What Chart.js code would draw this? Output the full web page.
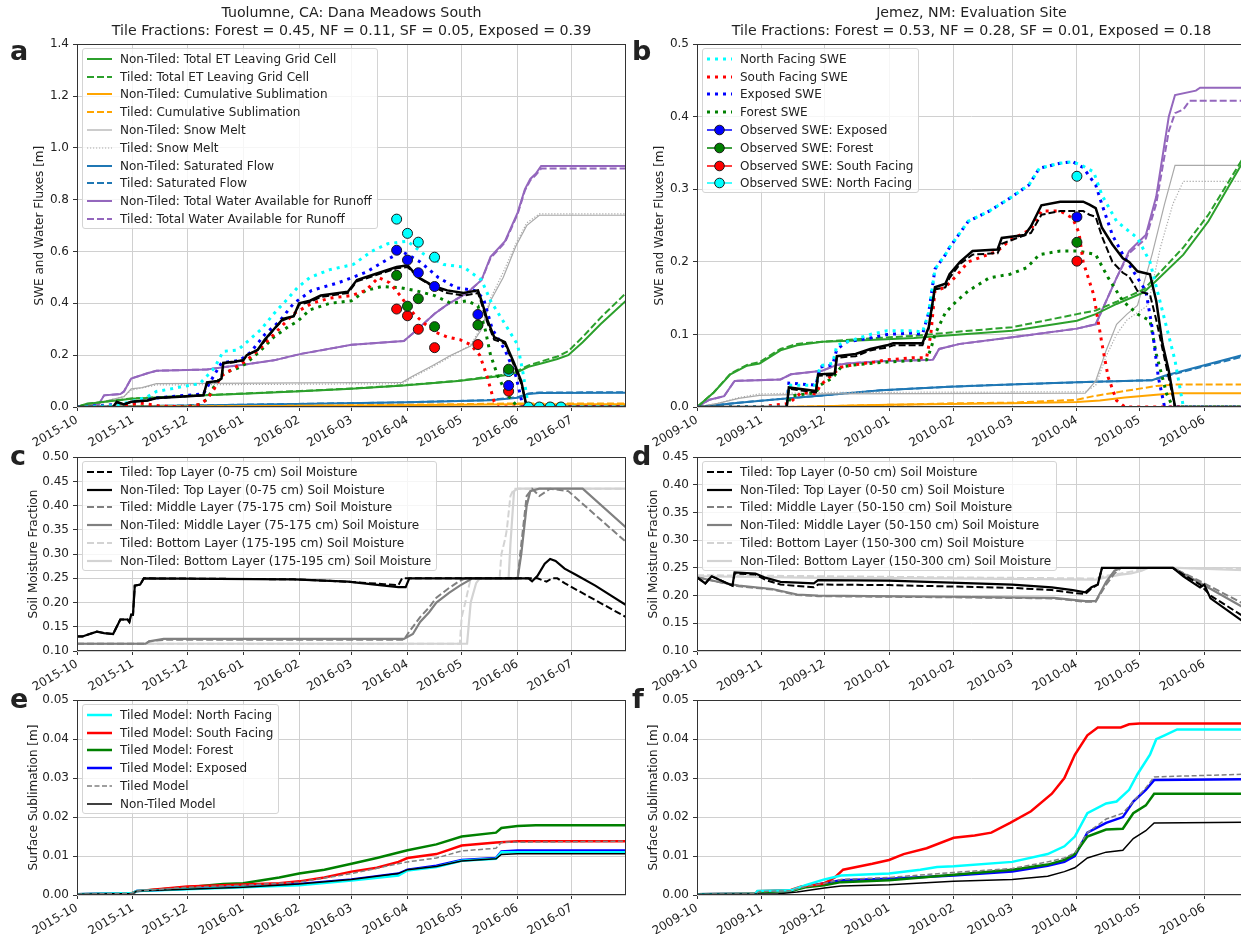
<!DOCTYPE html>
<html>
<head>
<meta charset="utf-8">
<script src="https://cdn.jsdelivr.net/npm/chart.js@4.4.0/dist/chart.umd.min.js"></script>
<style>
  html, body { margin: 0; padding: 0; background: #fff; overflow: hidden; }
  body { width: 1241px; height: 934px; position: relative; font-family: 'DejaVu Sans', sans-serif; color: #222; }
  canvas.panel { position: absolute; }
  .title { position: absolute; text-align: center; font-size: 14.2px; line-height: 17.5px; white-space: nowrap; z-index: 2; }
  .letter { position: absolute; font-weight: bold; font-size: 27px; line-height: 27px; z-index: 2; }
  .legend { position: absolute; background: rgba(255,255,255,0.8); border: 1px solid #d4d4d4; border-radius: 3px;
            padding: 1px 5px 0 4px; font-size: 12px; z-index: 2; }
  .legend .row { height: 17.8px; display: flex; align-items: center; white-space: nowrap; }
  .legend svg { margin-right: 8px; flex: none; }
</style>
</head>
<body>
<div class="title" style="left:77px; top:4px; width:549px;">Tuolumne, CA: Dana Meadows South<br>Tile Fractions: Forest = 0.45, NF = 0.11, SF = 0.05, Exposed = 0.39</div>
<div class="title" style="left:697px; top:4px; width:549px;">Jemez, NM: Evaluation Site<br>Tile Fractions: Forest = 0.53, NF = 0.28, SF = 0.01, Exposed = 0.18</div>
<div class="letter" style="left:10px; top:37px;">a</div>
<div class="letter" style="left:632px; top:37px;">b</div>
<div class="letter" style="left:10px; top:442px;">c</div>
<div class="letter" style="left:632px; top:442px;">d</div>
<div class="letter" style="left:10px; top:685px;">e</div>
<div class="letter" style="left:632px; top:685px;">f</div>

<script>
// x values are days since 1 October of the water year

// month ticks
const tuolMonthDays = [0, 31, 61, 92, 123, 152, 183, 213, 244, 274];
const tuolMonthLabels = ['2015-10', '2015-11', '2015-12', '2016-01', '2016-02', '2016-03', '2016-04', '2016-05', '2016-06', '2016-07'];
const jemezMonthDays = [0, 31, 61, 92, 123, 151, 182, 212, 243];
const jemezMonthLabels = ['2009-10', '2009-11', '2009-12', '2010-01', '2010-02', '2010-03', '2010-04', '2010-05', '2010-06'];

// y ticks
const tuolFluxTicks = [0, 0.2, 0.4, 0.6, 0.8, 1.0, 1.2, 1.4];
const jemezFluxTicks = [0, 0.1, 0.2, 0.3, 0.4, 0.5];
const tuolSoilTicks = [0.10, 0.15, 0.20, 0.25, 0.30, 0.35, 0.40, 0.45, 0.50];
const jemezSoilTicks = [0.10, 0.15, 0.20, 0.25, 0.30, 0.35, 0.40, 0.45];
const sublTicks = [0, 0.01, 0.02, 0.03, 0.04, 0.05];

// ---- Tuolumne: water fluxes ----
const tuolEtNonTiled = [[0,0],[5,0.012],[30,0.032],[61,0.042],[92,0.051],[124,0.061],[152,0.07],[181,0.083],[211,0.1],[229,0.115],[240,0.125],[244,0.135],[250,0.155],[258,0.17],[266,0.185],[272,0.2],[280,0.25],[290,0.32],[304,0.41]];
const tuolEtTiled = [[0,0],[5,0.012],[30,0.033],[61,0.043],[92,0.052],[124,0.062],[152,0.071],[181,0.084],[211,0.101],[229,0.118],[240,0.128],[244,0.14],[250,0.16],[258,0.178],[266,0.195],[272,0.215],[280,0.27],[290,0.345],[304,0.44]];
const tuolSublNonTiled = [[0,0],[31,0.001],[92,0.003],[152,0.006],[213,0.009],[244,0.0105],[304,0.0105]];
const tuolSublTiled = [[0,0],[31,0.001],[92,0.003],[152,0.0065],[213,0.011],[244,0.0138],[304,0.0138]];
const tuolMeltNonTiled = [[0,0],[14,0.02],[26,0.04],[30,0.07],[36,0.075],[44,0.09],[180,0.095],[186,0.12],[197,0.16],[207,0.2],[218,0.235],[224,0.3],[229,0.41],[236,0.5],[243,0.62],[249,0.7],[256,0.74],[304,0.74]];
const tuolMeltTiled = [[0,0],[14,0.02],[26,0.04],[30,0.065],[44,0.085],[180,0.09],[186,0.115],[197,0.155],[207,0.195],[218,0.24],[224,0.31],[229,0.42],[236,0.52],[243,0.63],[249,0.71],[256,0.745],[304,0.745]];
const tuolSatNonTiled = [[0,0],[31,0.003],[92,0.009],[122,0.012],[183,0.018],[229,0.026],[244,0.036],[250,0.05],[256,0.054],[304,0.055]];
const tuolSatTiled = [[0,0],[31,0.003],[92,0.009],[122,0.012],[183,0.018],[229,0.027],[244,0.038],[250,0.052],[256,0.056],[304,0.057]];
const tuolRunoffNonTiled = [[0,0],[5,0.006],[12,0.01],[15,0.045],[24,0.05],[26,0.06],[30,0.11],[39,0.13],[44,0.14],[72,0.145],[83,0.155],[94,0.165],[109,0.18],[124,0.205],[152,0.24],[181,0.255],[187,0.29],[198,0.36],[205,0.395],[216,0.44],[224,0.49],[229,0.58],[237,0.64],[244,0.75],[248,0.84],[251,0.88],[254,0.9],[257,0.93],[304,0.93]];
const tuolRunoffTiled = [[0,0],[5,0.006],[12,0.01],[15,0.045],[24,0.05],[26,0.06],[30,0.11],[39,0.13],[44,0.14],[72,0.145],[83,0.155],[94,0.165],[109,0.18],[124,0.205],[152,0.24],[181,0.255],[187,0.29],[198,0.36],[205,0.395],[216,0.44],[224,0.49],[229,0.575],[237,0.635],[244,0.745],[248,0.835],[251,0.875],[254,0.895],[257,0.92],[304,0.92]];

// ---- Tuolumne: SWE ----
const tuolSweNorth = [[0,0],[20,0.005],[30,0.02],[39,0.04],[44,0.06],[52,0.07],[59,0.08],[68,0.09],[72,0.12],[76,0.15],[81,0.215],[89,0.22],[94,0.25],[102,0.3],[109,0.36],[117,0.42],[122,0.46],[129,0.5],[140,0.53],[153,0.55],[163,0.6],[172,0.63],[183,0.64],[192,0.59],[203,0.55],[214,0.54],[224,0.49],[229,0.41],[237,0.32],[244,0.24],[247,0.13],[250,0],[304,0]];
const tuolSweSouth = [[0,0],[25,0.005],[35,0.015],[45,0.005],[60,0],[68,0.01],[72,0.03],[76,0.07],[80,0.12],[87,0.15],[94,0.18],[102,0.23],[109,0.28],[120,0.36],[130,0.4],[140,0.42],[152,0.43],[160,0.45],[167,0.5],[173,0.48],[179,0.43],[185,0.37],[191,0.33],[198,0.29],[205,0.27],[212,0.26],[218,0.24],[223,0.2],[227,0.12],[231,0.02],[233,0],[304,0]];
const tuolSweExposed = [[0,0],[22,0.01],[30,0.015],[44,0.035],[60,0.045],[70,0.05],[74,0.1],[80,0.17],[90,0.18],[96,0.21],[104,0.28],[112,0.33],[120,0.4],[130,0.45],[145,0.48],[160,0.52],[172,0.57],[180,0.6],[190,0.56],[200,0.5],[210,0.46],[220,0.45],[225,0.42],[230,0.3],[237,0.22],[243,0.12],[247,0],[304,0]];
const tuolSweForest = [[0,0],[60,0],[68,0.01],[72,0.03],[76,0.08],[81,0.13],[89,0.15],[94,0.17],[102,0.22],[109,0.27],[117,0.31],[122,0.33],[129,0.375],[140,0.4],[152,0.41],[160,0.45],[169,0.465],[179,0.46],[187,0.45],[198,0.43],[207,0.4],[216,0.41],[222,0.39],[226,0.3],[229,0.2],[233,0.12],[238,0.05],[244,0],[304,0]];
const tuolSweNonTiled = [[0,0],[20,0],[22,0.02],[26,0.01],[30,0.02],[39,0.025],[44,0.035],[57,0.04],[70,0.045],[72,0.095],[78,0.1],[80,0.11],[81,0.17],[87,0.175],[92,0.18],[94,0.2],[100,0.22],[104,0.26],[109,0.3],[114,0.34],[120,0.35],[123,0.4],[129,0.41],[135,0.43],[150,0.445],[155,0.49],[166,0.515],[177,0.54],[183,0.547],[189,0.5],[198,0.465],[205,0.45],[214,0.44],[222,0.45],[224,0.41],[227,0.34],[231,0.27],[237,0.25],[242,0.17],[246,0.1],[249,0],[304,0]];
const tuolSweTiled = [[0,0],[20,0],[22,0.018],[26,0.01],[30,0.02],[39,0.025],[44,0.035],[57,0.04],[70,0.045],[72,0.093],[78,0.1],[80,0.11],[81,0.168],[87,0.173],[92,0.18],[94,0.2],[100,0.22],[104,0.255],[109,0.3],[114,0.335],[120,0.35],[123,0.395],[129,0.405],[135,0.425],[150,0.44],[155,0.485],[166,0.51],[177,0.535],[183,0.54],[189,0.5],[198,0.46],[205,0.44],[214,0.43],[222,0.44],[224,0.4],[227,0.33],[231,0.26],[237,0.245],[242,0.16],[246,0.09],[249,0],[304,0]];
const tuolObsExposed = [[177,0.605],[183,0.567],[189,0.518],[198,0.465],[222,0.357],[239,0.083]];
const tuolObsForest = [[177,0.508],[183,0.389],[189,0.418],[198,0.31],[222,0.316],[239,0.146]];
const tuolObsSouth = [[177,0.378],[183,0.352],[189,0.3],[198,0.229],[222,0.241],[239,0.061]];
const tuolObsNorth = [[177,0.725],[183,0.67],[189,0.636],[198,0.578],[239,0.137],[250,0],[256,0],[262,0],[268,0]];

// ---- Jemez: water fluxes ----
const jemezEtNonTiled = [[0,0],[8,0.02],[16,0.045],[24,0.057],[30,0.06],[40,0.078],[48,0.085],[60,0.09],[80,0.092],[104,0.095],[126,0.1],[151,0.105],[182,0.119],[191,0.128],[201,0.142],[214,0.158],[220,0.174],[233,0.21],[245,0.256],[262,0.34]];
const jemezEtTiled = [[0,0],[8,0.02],[16,0.046],[24,0.058],[30,0.062],[40,0.08],[48,0.087],[60,0.09],[80,0.094],[104,0.098],[126,0.104],[151,0.11],[182,0.128],[191,0.133],[201,0.145],[214,0.162],[220,0.18],[233,0.22],[245,0.265],[262,0.345]];
const jemezSublNonTiled = [[0,0],[40,0],[60,0.001],[92,0.003],[121,0.004],[151,0.005],[182,0.007],[193,0.009],[205,0.013],[220,0.017],[229,0.019],[262,0.019]];
const jemezSublTiled = [[0,0],[40,0],[60,0.001],[92,0.003],[121,0.005],[151,0.006],[182,0.01],[190,0.015],[205,0.022],[220,0.029],[229,0.031],[262,0.031]];
const jemezMeltNonTiled = [[0,0],[10,0.005],[20,0.012],[30,0.016],[60,0.018],[186,0.019],[191,0.036],[196,0.078],[201,0.114],[206,0.128],[211,0.14],[218,0.21],[224,0.28],[229,0.333],[262,0.333]];
const jemezMeltTiled = [[0,0],[10,0.005],[20,0.013],[30,0.018],[60,0.02],[186,0.021],[191,0.03],[196,0.07],[201,0.1],[206,0.12],[211,0.13],[216,0.14],[222,0.22],[228,0.28],[233,0.311],[262,0.311]];
const jemezSatNonTiled = [[0,0],[20,0.006],[40,0.011],[60,0.016],[88,0.023],[121,0.028],[150,0.031],[182,0.034],[218,0.037],[224,0.043],[262,0.072]];
const jemezSatTiled = [[0,0],[20,0.006],[40,0.011],[60,0.016],[88,0.023],[121,0.028],[150,0.031],[182,0.034],[218,0.037],[224,0.042],[262,0.07]];
const jemezRunoffNonTiled = [[0,0],[6,0.01],[13,0.015],[18,0.036],[40,0.038],[45,0.045],[60,0.05],[67,0.058],[72,0.06],[88,0.063],[113,0.065],[116,0.08],[126,0.087],[151,0.096],[182,0.108],[191,0.114],[196,0.146],[201,0.178],[207,0.215],[211,0.226],[215,0.237],[220,0.29],[226,0.4],[229,0.43],[239,0.436],[241,0.44],[262,0.44]];
const jemezRunoffTiled = [[0,0],[6,0.01],[13,0.015],[18,0.036],[40,0.038],[45,0.045],[60,0.05],[67,0.058],[72,0.06],[88,0.063],[113,0.065],[116,0.08],[126,0.087],[151,0.096],[182,0.108],[191,0.114],[196,0.146],[201,0.178],[207,0.212],[211,0.222],[215,0.232],[220,0.28],[226,0.38],[229,0.405],[233,0.41],[236,0.422],[262,0.422]];

// ---- Jemez: SWE ----
const jemezSweNorth = [[0,0],[43,0],[44,0.03],[57,0.03],[59,0.057],[65,0.06],[67,0.085],[72,0.09],[83,0.1],[91,0.105],[104,0.105],[108,0.103],[111,0.13],[114,0.19],[119,0.21],[121,0.22],[130,0.256],[140,0.27],[150,0.288],[159,0.306],[164,0.329],[174,0.336],[180,0.338],[185,0.332],[190,0.324],[194,0.292],[201,0.256],[207,0.242],[211,0.233],[217,0.2],[223,0.132],[229,0.064],[233,0],[262,0]];
const jemezSweSouth = [[0,0],[30,0],[44,0.005],[50,0.02],[57,0.018],[59,0.03],[65,0.045],[69,0.055],[75,0.058],[85,0.062],[91,0.065],[104,0.068],[110,0.068],[112,0.1],[114,0.16],[119,0.165],[124,0.18],[130,0.2],[144,0.215],[150,0.23],[160,0.245],[165,0.27],[174,0.27],[180,0.26],[183,0.24],[185,0.2],[190,0.155],[194,0.087],[197,0.041],[201,0.009],[205,0],[262,0]];
const jemezSweExposed = [[0,0],[43,0],[44,0.033],[57,0.03],[59,0.055],[65,0.058],[67,0.08],[72,0.09],[83,0.095],[91,0.1],[104,0.102],[108,0.1],[111,0.13],[114,0.19],[119,0.21],[121,0.22],[130,0.256],[140,0.27],[150,0.288],[159,0.306],[164,0.329],[174,0.336],[180,0.338],[185,0.33],[191,0.306],[194,0.279],[199,0.237],[204,0.21],[211,0.178],[215,0.16],[218,0.11],[221,0.041],[224,0],[262,0]];
const jemezSweForest = [[0,0],[43,0],[45,0.015],[57,0.02],[59,0.03],[65,0.04],[69,0.055],[75,0.058],[91,0.062],[110,0.065],[112,0.08],[114,0.1],[119,0.13],[124,0.145],[130,0.16],[140,0.178],[150,0.183],[158,0.192],[164,0.21],[174,0.215],[182,0.215],[188,0.212],[191,0.21],[197,0.178],[204,0.146],[211,0.128],[217,0.119],[220,0.073],[225,0.018],[228,0],[262,0]];
const jemezSweNonTiled = [[0,0],[43,0],[44,0.027],[57,0.022],[58,0.045],[66,0.046],[67,0.07],[76,0.073],[83,0.08],[91,0.085],[94,0.088],[108,0.088],[111,0.11],[114,0.165],[119,0.17],[121,0.183],[126,0.2],[132,0.215],[144,0.217],[146,0.233],[157,0.237],[160,0.249],[165,0.278],[174,0.283],[185,0.283],[188,0.279],[191,0.274],[194,0.247],[199,0.224],[204,0.205],[207,0.2],[211,0.187],[217,0.183],[220,0.146],[223,0.087],[226,0.05],[229,0],[262,0]];
const jemezSweTiled = [[0,0],[43,0],[44,0.025],[57,0.02],[58,0.043],[66,0.044],[67,0.068],[76,0.07],[83,0.078],[91,0.082],[94,0.085],[108,0.085],[111,0.108],[114,0.162],[119,0.165],[121,0.178],[126,0.197],[132,0.21],[144,0.212],[146,0.225],[160,0.24],[165,0.265],[174,0.27],[185,0.27],[188,0.265],[191,0.262],[194,0.235],[199,0.2],[204,0.185],[207,0.18],[211,0.16],[217,0.155],[220,0.12],[223,0.08],[226,0.04],[229,0],[262,0]];
const jemezObsExposed = [[182,0.262]];
const jemezObsForest = [[182,0.227]];
const jemezObsSouth = [[182,0.201]];
const jemezObsNorth = [[182,0.318]];

// ---- soil moisture ----
const tuolTopTiled = [[0,0.13],[3,0.13],[7,0.135],[11,0.14],[15,0.137],[20,0.135],[22,0.15],[24,0.165],[28,0.165],[29,0.16],[30,0.175],[31,0.175],[32,0.235],[35,0.237],[37,0.25],[120,0.248],[150,0.243],[170,0.238],[178,0.236],[180,0.25],[250,0.25],[255,0.25],[260,0.243],[263,0.25],[266,0.25],[270,0.24],[287,0.205],[304,0.17]];
const tuolTopNonTiled = [[0,0.13],[3,0.13],[7,0.135],[11,0.14],[15,0.137],[20,0.135],[22,0.15],[24,0.165],[28,0.165],[29,0.16],[30,0.175],[31,0.175],[32,0.235],[35,0.237],[37,0.25],[120,0.248],[150,0.243],[165,0.237],[178,0.232],[182,0.232],[184,0.25],[250,0.25],[252,0.244],[255,0.255],[259,0.28],[262,0.29],[265,0.286],[270,0.27],[276,0.258],[287,0.235],[304,0.195]];
const tuolMidTiled = [[0,0.115],[38,0.115],[40,0.12],[48,0.123],[181,0.123],[184,0.14],[190,0.17],[195,0.19],[199,0.21],[206,0.23],[212,0.245],[215,0.25],[244,0.25],[246,0.32],[249,0.42],[252,0.435],[256,0.42],[262,0.435],[272,0.43],[304,0.325]];
const tuolMidNonTiled = [[0,0.115],[38,0.115],[40,0.12],[48,0.125],[181,0.125],[186,0.135],[190,0.16],[195,0.18],[199,0.2],[206,0.22],[212,0.235],[219,0.25],[244,0.25],[246,0.3],[249,0.4],[251,0.43],[256,0.435],[280,0.435],[304,0.355]];
const tuolBotTiled = [[0,0.115],[212,0.115],[213,0.17],[215,0.2],[218,0.25],[234,0.25],[235,0.3],[237,0.33],[238,0.35],[240,0.42],[242,0.435],[304,0.435]];
const tuolBotNonTiled = [[0,0.115],[216,0.115],[218,0.2],[221,0.24],[223,0.25],[239,0.25],[240,0.32],[242,0.43],[244,0.435],[304,0.435]];
const jemezTopTiled = [[0,0.233],[4,0.222],[7,0.235],[17,0.218],[18,0.24],[28,0.238],[33,0.228],[40,0.22],[56,0.215],[58,0.22],[92,0.219],[151,0.214],[170,0.21],[180,0.205],[186,0.203],[189,0.213],[192,0.22],[194,0.25],[228,0.25],[233,0.238],[241,0.22],[246,0.2],[262,0.162]];
const jemezTopNonTiled = [[0,0.233],[4,0.222],[7,0.235],[17,0.218],[18,0.242],[28,0.24],[33,0.232],[40,0.225],[56,0.222],[58,0.228],[92,0.227],[151,0.22],[170,0.215],[180,0.21],[186,0.206],[189,0.215],[192,0.22],[194,0.25],[228,0.25],[233,0.235],[238,0.222],[241,0.215],[243,0.22],[246,0.195],[262,0.152]];
const jemezMidTiled = [[0,0.233],[10,0.225],[20,0.217],[36,0.211],[48,0.201],[58,0.199],[120,0.197],[171,0.195],[186,0.189],[191,0.189],[196,0.22],[200,0.24],[203,0.25],[228,0.25],[240,0.228],[262,0.185]];
const jemezMidNonTiled = [[0,0.233],[10,0.225],[20,0.218],[36,0.212],[48,0.202],[58,0.2],[120,0.198],[171,0.196],[186,0.19],[191,0.19],[196,0.225],[200,0.245],[203,0.25],[228,0.25],[240,0.225],[262,0.178]];
const jemezBotTiled = [[0,0.237],[60,0.235],[120,0.233],[191,0.231],[196,0.236],[203,0.24],[210,0.245],[214,0.25],[230,0.25],[262,0.248]];
const jemezBotNonTiled = [[0,0.235],[60,0.232],[120,0.231],[191,0.229],[196,0.233],[203,0.238],[208,0.24],[213,0.245],[216,0.25],[230,0.25],[262,0.246]];

// ---- surface sublimation by tile ----
const tuolSublNorth = [[0,0.0002],[31,0.0005],[33,0.001],[61,0.0015],[92,0.002],[123,0.0025],[152,0.0037],[178,0.005],[183,0.0063],[199,0.0072],[213,0.0088],[232,0.0093],[235,0.011],[304,0.011]];
const tuolSublSouth = [[0,0.0002],[28,0.0003],[31,0.0005],[33,0.001],[61,0.0022],[81,0.0025],[92,0.0027],[112,0.003],[123,0.0035],[137,0.0045],[152,0.006],[166,0.007],[178,0.0085],[183,0.0095],[199,0.0105],[213,0.0127],[232,0.0135],[244,0.0138],[304,0.0138]];
const tuolSublForest = [[0,0.0002],[28,0.0003],[31,0.0005],[33,0.001],[61,0.002],[81,0.0028],[92,0.003],[112,0.0045],[123,0.0055],[137,0.0065],[152,0.008],[166,0.0095],[183,0.0115],[199,0.013],[213,0.015],[232,0.016],[235,0.0172],[244,0.0177],[254,0.0179],[304,0.0179]];
const tuolSublExposed = [[0,0.0002],[31,0.0005],[33,0.001],[61,0.0016],[92,0.0022],[123,0.0028],[152,0.004],[178,0.0055],[183,0.0065],[199,0.0075],[213,0.009],[232,0.0095],[235,0.0112],[244,0.0114],[304,0.0114]];
const tuolSublTiledTotal = [[0,0.0002],[31,0.0005],[33,0.001],[61,0.002],[92,0.0025],[123,0.0033],[152,0.0055],[183,0.0085],[199,0.0095],[213,0.0113],[232,0.012],[235,0.0135],[304,0.0138]];
const tuolSublNonTiledTotal = [[0,0.0002],[31,0.0004],[33,0.001],[61,0.0015],[92,0.002],[123,0.0028],[152,0.004],[178,0.0055],[183,0.0065],[199,0.0073],[213,0.0087],[232,0.0093],[235,0.0104],[244,0.0106],[304,0.0106]];
const jemezSublNorth = [[0,0.0002],[28,0.0003],[29,0.001],[45,0.0012],[52,0.0025],[61,0.004],[69,0.005],[92,0.0055],[107,0.0065],[115,0.0072],[123,0.0074],[151,0.0085],[168,0.0105],[176,0.0125],[181,0.015],[187,0.021],[196,0.0235],[201,0.024],[207,0.027],[211,0.031],[217,0.036],[220,0.04],[224,0.041],[230,0.0425],[262,0.0425]];
const jemezSublSouth = [[0,0.0002],[28,0.0003],[29,0.001],[45,0.0013],[50,0.0022],[58,0.0027],[61,0.003],[66,0.0045],[70,0.0065],[84,0.008],[92,0.009],[99,0.0105],[110,0.012],[123,0.0147],[133,0.0153],[141,0.016],[150,0.0185],[160,0.0215],[170,0.026],[176,0.03],[181,0.036],[187,0.041],[192,0.043],[203,0.043],[207,0.0438],[212,0.044],[262,0.044]];
const jemezSublForest = [[0,0.0002],[28,0.0003],[30,0.0008],[45,0.001],[52,0.002],[61,0.0025],[69,0.0033],[92,0.0038],[123,0.0052],[151,0.0065],[168,0.0078],[176,0.009],[181,0.0105],[187,0.015],[196,0.0168],[204,0.017],[209,0.021],[215,0.023],[219,0.026],[262,0.026]];
const jemezSublExposed = [[0,0.0002],[28,0.0003],[30,0.0009],[45,0.0011],[52,0.0022],[61,0.003],[69,0.0038],[92,0.0042],[123,0.005],[151,0.006],[168,0.0075],[176,0.0085],[181,0.01],[187,0.016],[196,0.0185],[204,0.02],[209,0.024],[215,0.027],[219,0.0295],[262,0.0297]];
const jemezSublTiledTotal = [[0,0.0002],[28,0.0003],[30,0.0009],[45,0.0011],[52,0.0022],[61,0.003],[69,0.004],[92,0.0045],[123,0.0058],[151,0.0068],[168,0.0085],[176,0.0095],[181,0.0108],[187,0.016],[196,0.0195],[204,0.021],[209,0.024],[215,0.0275],[219,0.0303],[262,0.031]];
const jemezSublNonTiledTotal = [[0,0.0002],[39,0.0003],[48,0.0008],[61,0.0018],[69,0.0023],[92,0.0026],[123,0.0035],[151,0.004],[168,0.0048],[176,0.006],[181,0.007],[187,0.0095],[196,0.011],[204,0.0115],[209,0.0145],[215,0.0165],[219,0.0185],[262,0.0187]];

// colours
const C = {
  green: '#2ca02c', orange: '#ffa500', melt: '#a9a9a9', sat: '#1f77b4', purple: '#9467bd',
  cyan: '#00ffff', red: '#ff0000', blue: '#0000ff', forest: '#008000', black: '#000000',
  grey: '#808080', light: '#d3d3d3'
};
const DASH = [7, 3];
const THIN_DASH = [5, 2.5];
const DOT = [3, 5];
const FINE_DOT = [1.2, 1.8];

Chart.defaults.font.family = "'DejaVu Sans', 'Liberation Sans', sans-serif";
Chart.defaults.font.size = 12;
Chart.defaults.color = '#222';

function ln(label, data, color, width, dash, order, legend) {
  return {
    label, data, borderColor: color, backgroundColor: color, borderWidth: width,
    borderDash: dash || [], pointRadius: 0, tension: 0, fill: false, order: order, legend: !!legend
  };
}
function obs(label, data, color, legend) {
  return {
    label, data, showLine: false, borderColor: color, backgroundColor: color,
    pointRadius: 5, pointBackgroundColor: color, pointBorderColor: '#1a1a1a', pointBorderWidth: 1,
    order: 0, legend: !!legend, marker: true
  };
}

// draws the four axis spines
const framePlugin = {
  id: 'frame',
  afterDraw(chart) {
    const { ctx, chartArea: a } = chart;
    ctx.save();
    ctx.strokeStyle = '#333';
    ctx.lineWidth = 1;
    ctx.strokeRect(Math.round(a.left) + 0.5, Math.round(a.top) + 0.5,
      Math.round(a.right - a.left) - 1, Math.round(a.bottom - a.top) - 1);
    ctx.restore();
  }
};

const gridOpts = { color: '#d0d0d0', lineWidth: 1, tickLength: 4, tickColor: '#333' };

function buildLegend(spec) {
  const items = spec.datasets.filter(d => d.legend);
  if (!items.length) return;
  const box = document.createElement('div');
  box.className = 'legend';
  box.style.left = (spec.plot.left + 5) + 'px';
  box.style.top = (spec.plot.top + 5) + 'px';
  items.forEach(d => {
    const row = document.createElement('div');
    row.className = 'row';
    let svg;
    if (d.marker) {
      svg = `<svg width="25" height="12"><line x1="0" y1="6" x2="25" y2="6" stroke="${d.borderColor}" stroke-width="1.5"/>` +
            `<circle cx="12.5" cy="6" r="4.8" fill="${d.borderColor}" stroke="#1a1a1a" stroke-width="1"/></svg>`;
    } else {
      const dash = d.borderDash.length ? ` stroke-dasharray="${d.borderDash.join(' ')}"` : '';
      svg = `<svg width="25" height="12"><line x1="0" y1="6" x2="25" y2="6" stroke="${d.borderColor}" stroke-width="${d.borderWidth}"${dash}/></svg>`;
    }
    row.innerHTML = svg + '<span></span>';
    row.querySelector('span').textContent = d.label;
    box.appendChild(row);
  });
  document.body.appendChild(box);
}

function buildPanel(spec) {
  const leftColumn = spec.plot.left < 600;
  const yAxisW = leftColumn ? 77 : 57;
  const padTop = 10, padRight = 12, xAxisH = 48;
  const cLeft = spec.plot.left - yAxisW;
  const cTop = spec.plot.top - padTop;
  const canvas = document.createElement('canvas');
  canvas.className = 'panel';
  canvas.width = yAxisW + spec.plot.width + padRight;
  canvas.height = padTop + spec.plot.height + xAxisH;
  canvas.style.left = cLeft + 'px';
  canvas.style.top = cTop + 'px';
  document.body.appendChild(canvas);

  new Chart(canvas, {
    type: 'line',
    data: { datasets: spec.datasets },
    options: {
      responsive: false,
      animation: false,
      events: [],
      layout: { padding: { top: padTop, right: padRight, left: 0, bottom: 0 } },
      plugins: { legend: { display: false }, tooltip: { enabled: false } },
      scales: {
        x: {
          type: 'linear', min: 0, max: spec.xMax,
          afterBuildTicks: s => { s.ticks = spec.monthDays.map(v => ({ value: v })); },
          afterFit: s => { s.height = xAxisH; },
          ticks: {
            autoSkip: false, minRotation: 30, maxRotation: 30, padding: 2,
            callback: v => spec.monthLabels[spec.monthDays.indexOf(v)]
          },
          grid: gridOpts, border: { display: false }
        },
        y: {
          type: 'linear', min: spec.yTicks[0], max: spec.yTicks[spec.yTicks.length - 1],
          afterBuildTicks: s => { s.ticks = spec.yTicks.map(v => ({ value: v })); },
          afterFit: s => { s.width = yAxisW; },
          ticks: { padding: 4, callback: v => Number(v).toFixed(spec.yDecimals) },
          title: {
            display: true, text: spec.yTitle, font: { size: 12 },
            padding: { top: spec.yTitleX - cLeft - 7.2, bottom: 0 }
          },
          grid: gridOpts, border: { display: false }
        }
      }
    },
    plugins: [framePlugin]
  });
  buildLegend(spec);
}

const TUOL_MAX = 304, JEMEZ_MAX = 263;

// a: Tuolumne SWE and water fluxes
buildPanel({
  plot: { left: 77, top: 43, width: 549, height: 364 },
  xMax: TUOL_MAX, monthDays: tuolMonthDays, monthLabels: tuolMonthLabels,
  yTicks: tuolFluxTicks, yDecimals: 1, yTitle: 'SWE and Water Fluxes [m]', yTitleX: 40,
  datasets: [
    ln('Non-Tiled: Total ET Leaving Grid Cell', tuolEtNonTiled, C.green, 2, null, 3, true),
    ln('Tiled: Total ET Leaving Grid Cell', tuolEtTiled, C.green, 2, DASH, 3, true),
    ln('Non-Tiled: Cumulative Sublimation', tuolSublNonTiled, C.orange, 2, null, 3, true),
    ln('Tiled: Cumulative Sublimation', tuolSublTiled, C.orange, 2, DASH, 3, true),
    ln('Non-Tiled: Snow Melt', tuolMeltNonTiled, C.melt, 1.2, null, 3, true),
    ln('Tiled: Snow Melt', tuolMeltTiled, C.melt, 1.2, FINE_DOT, 3, true),
    ln('Non-Tiled: Saturated Flow', tuolSatNonTiled, C.sat, 2, null, 3, true),
    ln('Tiled: Saturated Flow', tuolSatTiled, C.sat, 2, DASH, 3, true),
    ln('Non-Tiled: Total Water Available for Runoff', tuolRunoffNonTiled, C.purple, 2, null, 3, true),
    ln('Tiled: Total Water Available for Runoff', tuolRunoffTiled, C.purple, 2, DASH, 3, true),
    ln('North Facing SWE', tuolSweNorth, C.cyan, 3, DOT, 2),
    ln('South Facing SWE', tuolSweSouth, C.red, 3, DOT, 2),
    ln('Exposed SWE', tuolSweExposed, C.blue, 3, DOT, 2),
    ln('Forest SWE', tuolSweForest, C.forest, 3, DOT, 2),
    ln('Non-Tiled SWE', tuolSweNonTiled, C.black, 2.5, null, 1),
    ln('Tiled SWE', tuolSweTiled, C.black, 2, DASH, 1),
    obs('Observed SWE: Exposed', tuolObsExposed, C.blue),
    obs('Observed SWE: Forest', tuolObsForest, C.forest),
    obs('Observed SWE: South Facing', tuolObsSouth, C.red),
    obs('Observed SWE: North Facing', tuolObsNorth, C.cyan)
  ]
});

// b: Jemez SWE and water fluxes
buildPanel({
  plot: { left: 697, top: 43, width: 549, height: 364 },
  xMax: JEMEZ_MAX, monthDays: jemezMonthDays, monthLabels: jemezMonthLabels,
  yTicks: jemezFluxTicks, yDecimals: 1, yTitle: 'SWE and Water Fluxes [m]', yTitleX: 660,
  datasets: [
    ln('North Facing SWE', jemezSweNorth, C.cyan, 3, DOT, 2, true),
    ln('South Facing SWE', jemezSweSouth, C.red, 3, DOT, 2, true),
    ln('Exposed SWE', jemezSweExposed, C.blue, 3, DOT, 2, true),
    ln('Forest SWE', jemezSweForest, C.forest, 3, DOT, 2, true),
    obs('Observed SWE: Exposed', jemezObsExposed, C.blue, true),
    obs('Observed SWE: Forest', jemezObsForest, C.forest, true),
    obs('Observed SWE: South Facing', jemezObsSouth, C.red, true),
    obs('Observed SWE: North Facing', jemezObsNorth, C.cyan, true),
    ln('Non-Tiled: Total ET Leaving Grid Cell', jemezEtNonTiled, C.green, 2, null, 3),
    ln('Tiled: Total ET Leaving Grid Cell', jemezEtTiled, C.green, 2, DASH, 3),
    ln('Non-Tiled: Cumulative Sublimation', jemezSublNonTiled, C.orange, 2, null, 3),
    ln('Tiled: Cumulative Sublimation', jemezSublTiled, C.orange, 2, DASH, 3),
    ln('Non-Tiled: Snow Melt', jemezMeltNonTiled, C.melt, 1.2, null, 3),
    ln('Tiled: Snow Melt', jemezMeltTiled, C.melt, 1.2, FINE_DOT, 3),
    ln('Non-Tiled: Saturated Flow', jemezSatNonTiled, C.sat, 2, null, 3),
    ln('Tiled: Saturated Flow', jemezSatTiled, C.sat, 2, DASH, 3),
    ln('Non-Tiled: Total Water Available for Runoff', jemezRunoffNonTiled, C.purple, 2, null, 3),
    ln('Tiled: Total Water Available for Runoff', jemezRunoffTiled, C.purple, 2, DASH, 3),
    ln('Non-Tiled SWE', jemezSweNonTiled, C.black, 2.5, null, 1),
    ln('Tiled SWE', jemezSweTiled, C.black, 2, DASH, 1)
  ]
});

// c: Tuolumne soil moisture
buildPanel({
  plot: { left: 77, top: 456, width: 549, height: 195 },
  xMax: TUOL_MAX, monthDays: tuolMonthDays, monthLabels: tuolMonthLabels,
  yTicks: tuolSoilTicks, yDecimals: 2, yTitle: 'Soil Moisture Fraction', yTitleX: 34,
  datasets: [
    ln('Tiled: Top Layer (0-75 cm) Soil Moisture', tuolTopTiled, C.black, 2, DASH, 1, true),
    ln('Non-Tiled: Top Layer (0-75 cm) Soil Moisture', tuolTopNonTiled, C.black, 2.2, null, 1, true),
    ln('Tiled: Middle Layer (75-175 cm) Soil Moisture', tuolMidTiled, C.grey, 2, DASH, 2, true),
    ln('Non-Tiled: Middle Layer (75-175 cm) Soil Moisture', tuolMidNonTiled, C.grey, 2.2, null, 2, true),
    ln('Tiled: Bottom Layer (175-195 cm) Soil Moisture', tuolBotTiled, C.light, 2, DASH, 3, true),
    ln('Non-Tiled: Bottom Layer (175-195 cm) Soil Moisture', tuolBotNonTiled, C.light, 2.2, null, 3, true)
  ]
});

// d: Jemez soil moisture
buildPanel({
  plot: { left: 697, top: 456, width: 549, height: 195 },
  xMax: JEMEZ_MAX, monthDays: jemezMonthDays, monthLabels: jemezMonthLabels,
  yTicks: jemezSoilTicks, yDecimals: 2, yTitle: 'Soil Moisture Fraction', yTitleX: 654,
  datasets: [
    ln('Tiled: Top Layer (0-50 cm) Soil Moisture', jemezTopTiled, C.black, 2, DASH, 1, true),
    ln('Non-Tiled: Top Layer (0-50 cm) Soil Moisture', jemezTopNonTiled, C.black, 2.2, null, 1, true),
    ln('Tiled: Middle Layer (50-150 cm) Soil Moisture', jemezMidTiled, C.grey, 2, DASH, 2, true),
    ln('Non-Tiled: Middle Layer (50-150 cm) Soil Moisture', jemezMidNonTiled, C.grey, 2.2, null, 2, true),
    ln('Tiled: Bottom Layer (150-300 cm) Soil Moisture', jemezBotTiled, C.light, 2, DASH, 3, true),
    ln('Non-Tiled: Bottom Layer (150-300 cm) Soil Moisture', jemezBotNonTiled, C.light, 2.2, null, 3, true)
  ]
});

// e: Tuolumne surface sublimation
buildPanel({
  plot: { left: 77, top: 699, width: 549, height: 196 },
  xMax: TUOL_MAX, monthDays: tuolMonthDays, monthLabels: tuolMonthLabels,
  yTicks: sublTicks, yDecimals: 2, yTitle: 'Surface Sublimation [m]', yTitleX: 34,
  datasets: [
    ln('Tiled Model: North Facing', tuolSublNorth, C.cyan, 2.5, null, 2, true),
    ln('Tiled Model: South Facing', tuolSublSouth, C.red, 2.5, null, 2, true),
    ln('Tiled Model: Forest', tuolSublForest, C.forest, 2.5, null, 2, true),
    ln('Tiled Model: Exposed', tuolSublExposed, C.blue, 2.5, null, 2, true),
    ln('Tiled Model', tuolSublTiledTotal, C.grey, 1.5, THIN_DASH, 1, true),
    ln('Non-Tiled Model', tuolSublNonTiledTotal, C.black, 1.5, null, 1, true)
  ]
});

// f: Jemez surface sublimation
buildPanel({
  plot: { left: 697, top: 699, width: 549, height: 196 },
  xMax: JEMEZ_MAX, monthDays: jemezMonthDays, monthLabels: jemezMonthLabels,
  yTicks: sublTicks, yDecimals: 2, yTitle: 'Surface Sublimation [m]', yTitleX: 654,
  datasets: [
    ln('Tiled Model: North Facing', jemezSublNorth, C.cyan, 2.5, null, 2),
    ln('Tiled Model: South Facing', jemezSublSouth, C.red, 2.5, null, 2),
    ln('Tiled Model: Forest', jemezSublForest, C.forest, 2.5, null, 2),
    ln('Tiled Model: Exposed', jemezSublExposed, C.blue, 2.5, null, 2),
    ln('Tiled Model', jemezSublTiledTotal, C.grey, 1.5, THIN_DASH, 1),
    ln('Non-Tiled Model', jemezSublNonTiledTotal, C.black, 1.5, null, 1)
  ]
});
</script>
</body>
</html>
